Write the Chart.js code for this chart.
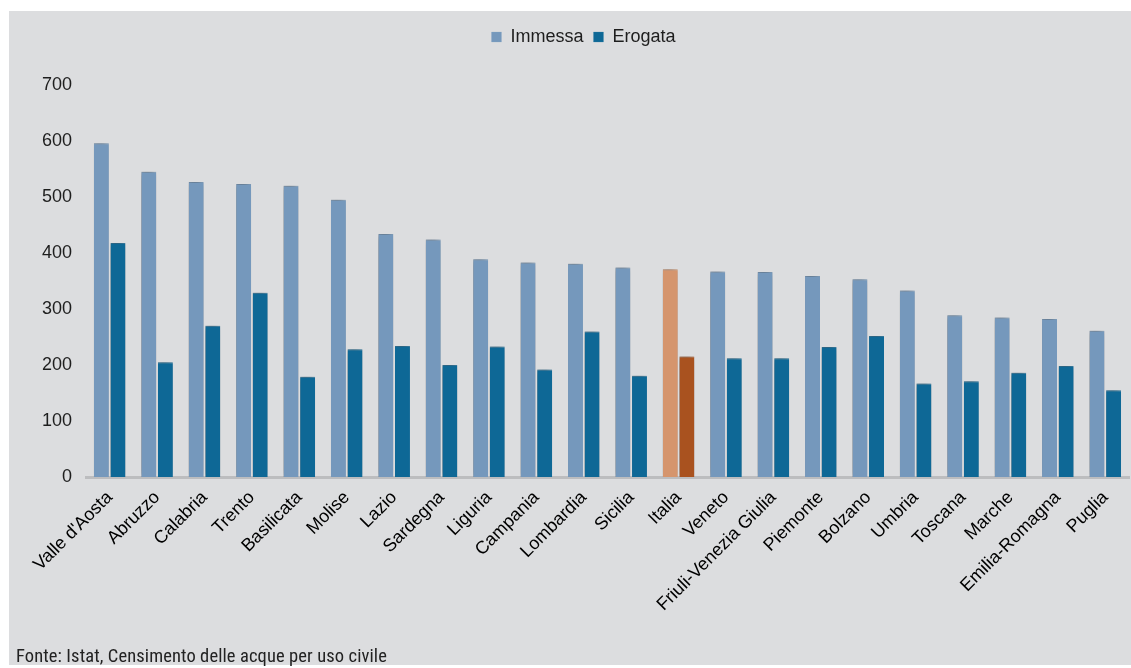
<!DOCTYPE html>
<html>
<head>
<meta charset="utf-8">
<script src="https://cdn.jsdelivr.net/npm/chart.js@4/dist/chart.umd.min.js"></script>
<style>
  html, body { margin: 0; padding: 0; background: #ffffff; }
  #wrap { position: relative; width: 1131px; height: 668px; overflow: hidden; }
  #panel { position: absolute; left: 9px; top: 11px; width: 1122px; height: 654px; background: #dcdddf; }
  #c { position: absolute; left: 0; top: 0; }
  #src { position: absolute; left: 16px; top: 645px; font-family: "Liberation Sans Narrow", "Roboto Condensed", "DejaVu Sans Condensed", "Liberation Sans", sans-serif; font-size: 18.5px; letter-spacing: 0.1px; color: #222; white-space: nowrap; }
</style>
</head>
<body>
<div id="wrap">
  <div id="panel"></div>
  <canvas id="c" width="1131" height="668"></canvas>
  <div id="src">Fonte: Istat, Censimento delle acque per uso civile</div>
</div>
<script>
const categories = ["Valle d'Aosta","Abruzzo","Calabria","Trento","Basilicata","Molise","Lazio","Sardegna","Liguria","Campania","Lombardia","Sicilia","Italia","Veneto","Friuli-Venezia Giulia","Piemonte","Bolzano","Umbria","Toscana","Marche","Emilia-Romagna","Puglia"];
const immessa = [596,545,527,523,520,495,434,424,389,383,381,374,371,367,366,359,353,333,289,285,282,261];
const erogata = [418,205,270,329,179,228,234,200,233,192,260,181,215,212,212,232,252,167,171,186,198,155];
const seriesNames = ["Immessa","Erogata"];
const yTicks = [0,100,200,300,400,500,600,700];
const highlight = "Italia";

const hiIdx = categories.indexOf(highlight);
const colImm = "#7598bc", colImmHi = "#d5956d";
const colErg = "#0e6896", colErgHi = "#a9521f";

const shadowPlugin = {
  id: 'barShadow',
  beforeDatasetsDraw(chart) {
    const ctx = chart.ctx;
    ctx.save();
    ctx.shadowColor = 'rgba(0,0,0,0.55)';
    ctx.shadowBlur = 7;
    ctx.shadowOffsetX = -2;
    ctx.shadowOffsetY = 0;
  },
  afterDatasetsDraw(chart) { chart.ctx.restore(); }
};
const legendGap = {
  id: 'legendGap',
  beforeInit(chart) {
    const fit = chart.legend.fit;
    chart.legend.fit = function () { fit.bind(chart.legend)(); this.height += 29; };
  }
};

const font = { family: "'Liberation Sans', Arial, sans-serif", size: 18 };

new Chart(document.getElementById('c'), {
  type: 'bar',
  data: {
    labels: categories,
    datasets: [
      { label: seriesNames[0], data: immessa,
        backgroundColor: c => (c.dataIndex === hiIdx ? colImmHi : colImm),
        borderColor: c => (c.dataIndex === hiIdx ? '#e0a986' : '#88a8c8'),
        borderWidth: { top: 1, left: 0, right: 0, bottom: 0 },
        categoryPercentage: 0.70, barPercentage: 0.90 },
      { label: seriesNames[1], data: erogata,
        backgroundColor: c => (c.dataIndex === hiIdx ? colErgHi : colErg),
        borderColor: c => (c.dataIndex === hiIdx ? '#b8693a' : '#3a83ab'),
        borderWidth: { top: 1, left: 0, right: 0, bottom: 0 },
        categoryPercentage: 0.70, barPercentage: 0.90 }
    ]
  },
  options: {
    responsive: false,
    animation: false,
    devicePixelRatio: 1,
    layout: { padding: { top: 18, left: 38, right: 2, bottom: 0 } },
    plugins: {
      legend: {
        position: 'top',
        labels: { boxWidth: 10, boxHeight: 10, padding: 10, color: '#1e1e1e', font: font }
      },
      tooltip: { enabled: false }
    },
    scales: {
      x: {
        grid: { display: false, drawTicks: false },
        border: { display: true, color: '#bcbdbf', width: 3 },
        ticks: { autoSkip: false, minRotation: 45, maxRotation: 45, color: '#000', font: font, padding: 10 },
        afterFit(s) { s.height = 191; }
      },
      y: {
        min: 0, max: 700,
        grid: { display: false, drawTicks: false },
        border: { display: false },
        afterBuildTicks(s) { s.ticks = yTicks.map(v => ({ value: v })); },
        ticks: { color: '#1e1e1e', font: font, padding: 14 },
        afterFit(s) { s.width = 48; }
      }
    }
  },
  plugins: [shadowPlugin, legendGap]
});
</script>
</body>
</html>
